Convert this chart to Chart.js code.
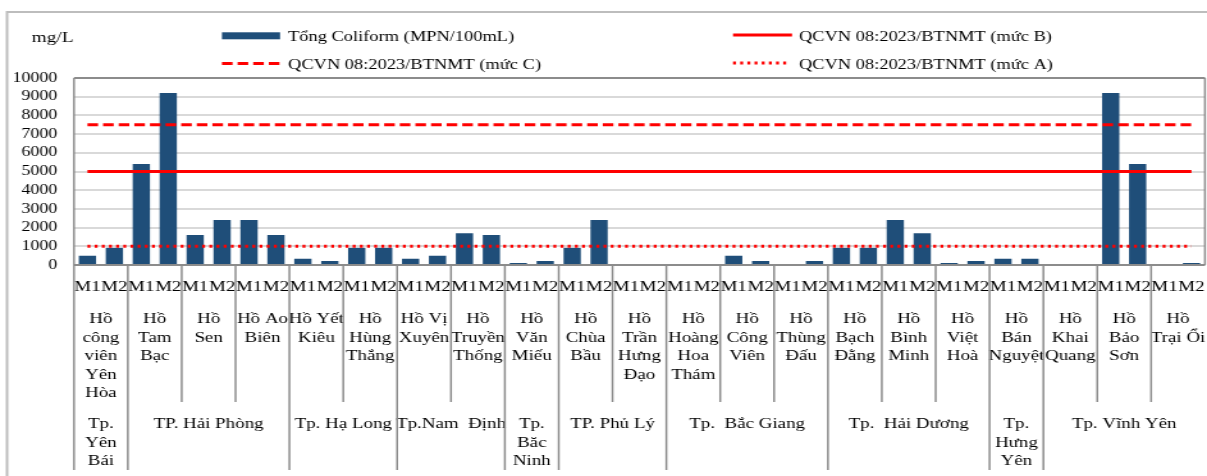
<!DOCTYPE html>
<html lang="vi">
<head>
<meta charset="utf8" />
<script src="https://cdn.jsdelivr.net/npm/chart.js@4.4.1/dist/chart.umd.min.js"></script>
<title>Tổng Coliform</title>
<style>
  html, body { margin: 0; padding: 0; background: #fff; }
</style>
</head>
<body>
<!-- the source picture is stretched sideways, so the canvas is drawn narrow and widened by css -->
<canvas id="chart" width="943" height="476" style="display:block;width:1207px;height:476px"></canvas>
<script>
// lakes, grouped by city (line breaks as in the source)
const lakeNames = [
  ['Hồ', 'công', 'viên', 'Yên', 'Hòa'],
  ['Hồ', 'Tam', 'Bạc'],
  ['Hồ', 'Sen'],
  ['Hồ Ao', 'Biên'],
  ['Hồ Yết', 'Kiêu'],
  ['Hồ', 'Hùng', 'Thắng'],
  ['Hồ Vị', 'Xuyên'],
  ['Hồ', 'Truyền', 'Thống'],
  ['Hồ', 'Văn', 'Miếu'],
  ['Hồ', 'Chùa', 'Bầu'],
  ['Hồ', 'Trần', 'Hưng', 'Đạo'],
  ['Hồ', 'Hoàng', 'Hoa', 'Thám'],
  ['Hồ', 'Công', 'Viên'],
  ['Hồ', 'Thùng', 'Đấu'],
  ['Hồ', 'Bạch', 'Đằng'],
  ['Hồ', 'Bình', 'Minh'],
  ['Hồ', 'Việt', 'Hoà'],
  ['Hồ', 'Bán', 'Nguyệt'],
  ['Hồ', 'Khai', 'Quang'],
  ['Hồ', 'Bảo', 'Sơn'],
  ['Hồ', 'Trại Ổi']
];
const cityNames = [
  ['Tp.', 'Yên', 'Bái'],
  ['TP. Hải Phòng'],
  ['Tp. Hạ Long'],
  ['Tp.Nam  Định'],
  ['Tp.', 'Băc', 'Ninh'],
  ['TP. Phủ Lý'],
  ['Tp.  Bắc Giang'],
  ['Tp.  Hải Dương'],
  ['Tp.', 'Hưng', 'Yên'],
  ['Tp. Vĩnh Yên']
];
const lakesPerCity = [1, 3, 2, 2, 1, 2, 3, 3, 1, 3];
const samples = ['M1', 'M2'];

// Tổng Coliform (MPN/100mL) per lake
const m1Values = [490, 5400, 1600, 2400, 330, 920, 330, 1700, 110, 920, 0, 0, 490, 0, 920, 2400, 110, 330, 0, 9200, 0];
const m2Values = [920, 9200, 2400, 1600, 220, 920, 490, 1600, 220, 2400, 0, 0, 220, 220, 920, 1700, 220, 330, 50, 5400, 110];

// QCVN 08:2023/BTNMT limits
const limitA = 1000;
const limitB = 5000;
const limitC = 7500;

const yTicks = [0, 1000, 2000, 3000, 4000, 5000, 6000, 7000, 8000, 9000, 10000];

// build 42 categories (M1, M2 for each lake)
const labels = [];
const coliform = [];
lakeNames.forEach((name, i) => {
  labels.push(samples[0], samples[1]);
  coliform.push(m1Values[i], m2Values[i]);
});
const flat = v => labels.map(() => v);

const FONT = '"Liberation Serif", "Times New Roman", serif';
const GRAY = '#8c8c8c';

const axisLabels = {
  id: 'axisLabels',
  afterDraw(chart) {
    const ctx = chart.ctx;
    const x = chart.scales.x;
    const area = chart.chartArea;
    const ds = chart.data.datasets;
    ctx.save();

    // outer frame
    ctx.strokeStyle = '#bdbdbd';
    ctx.lineWidth = 2;
    ctx.beginPath();
    ctx.moveTo(5.5, 476);
    ctx.lineTo(5.5, 12);
    ctx.lineTo(943, 12);
    ctx.stroke();

    // plot border
    ctx.strokeStyle = GRAY;
    ctx.lineWidth = 2;
    ctx.beginPath();
    ctx.moveTo(area.left, area.top);
    ctx.lineTo(area.right, area.top);
    ctx.moveTo(area.left, area.bottom);
    ctx.lineTo(area.right, area.bottom);
    ctx.stroke();
    ctx.lineWidth = 1.5;
    ctx.beginPath();
    ctx.moveTo(area.left, area.top);
    ctx.lineTo(area.left, area.bottom);
    ctx.moveTo(area.right, area.top);
    ctx.lineTo(area.right, area.bottom);
    ctx.stroke();

    // unit
    ctx.fillStyle = '#000';
    ctx.textAlign = 'left';
    ctx.textBaseline = 'alphabetic';
    ctx.font = '15px ' + FONT;
    ctx.fillText('mg/L', 24.8, 41.5);

    // legend
    ctx.font = '14.4px ' + FONT;
    ctx.fillStyle = ds[0].backgroundColor;
    ctx.fillRect(173.4, 32.3, 45.4, 7);
    const swatch = (d, x0, x1, y) => {
      ctx.strokeStyle = d.borderColor;
      ctx.lineWidth = d.borderWidth;
      ctx.setLineDash(d.borderDash || []);
      ctx.beginPath();
      ctx.moveTo(x0, y);
      ctx.lineTo(x1, y);
      ctx.stroke();
      ctx.setLineDash([]);
    };
    swatch(ds[2], 173.4, 218.8, 63.5);
    swatch(ds[1], 572.7, 618.8, 35);
    swatch(ds[3], 572.7, 616, 63);
    ctx.fillStyle = '#000';
    ctx.fillText(ds[0].label, 225, 41);
    ctx.fillText(ds[2].label, 225, 68.5);
    ctx.fillText(ds[1].label, 624.2, 41);
    ctx.fillText(ds[3].label, 624.2, 68.5);

    // category axis: sample row, lake row, city row
    ctx.font = '14.8px ' + FONT;
    const px = i => x.getPixelForValue(i);
    const edge = i => i <= 0 ? area.left : i >= labels.length ? area.right : (px(i - 1) + px(i)) / 2;
    ctx.textAlign = 'center';
    labels.forEach((l, i) => ctx.fillText(l, px(i), 291));

    lakeNames.forEach((lines, g) => {
      const cx = (edge(2 * g) + edge(2 * g + 2)) / 2;
      lines.forEach((t, k) => ctx.fillText(t, cx, 323 + k * 18.6));
    });

    let start = 0;
    const cityEdges = [0];
    cityNames.forEach((lines, c) => {
      const end = start + lakesPerCity[c];
      const cx = (edge(2 * start) + edge(2 * end)) / 2;
      lines.forEach((t, k) => ctx.fillText(t, cx, 428 + k * 18.6));
      cityEdges.push(end);
      start = end;
    });

    ctx.strokeStyle = GRAY;
    ctx.lineWidth = 1.5;
    for (let g = 0; g < lakeNames.length; g++) {
      const xx = edge(2 * g);
      const long = cityEdges.includes(g);
      ctx.beginPath();
      ctx.moveTo(xx, area.bottom);
      ctx.lineTo(xx, long ? 470 : 402);
      ctx.stroke();
    }
    ctx.restore();
  }
};

new Chart(document.getElementById('chart'), {
  type: 'bar',
  data: {
    labels: labels,
    datasets: [
      {
        type: 'bar',
        label: 'Tổng Coliform (MPN/100mL)',
        data: coliform,
        backgroundColor: '#1f4e79',
        barPercentage: 0.64,
        categoryPercentage: 1,
        order: 2
      },
      {
        type: 'line',
        label: 'QCVN 08:2023/BTNMT (mức B)',
        data: flat(limitB),
        borderColor: '#ff0000',
        borderWidth: 3,
        pointRadius: 0,
        order: 1
      },
      {
        type: 'line',
        label: 'QCVN 08:2023/BTNMT (mức C)',
        data: flat(limitC),
        borderColor: '#ff0000',
        borderWidth: 3,
        borderDash: [8.3, 3.9],
        pointRadius: 0,
        order: 1
      },
      {
        type: 'line',
        label: 'QCVN 08:2023/BTNMT (mức A)',
        data: flat(limitA),
        borderColor: '#ff0000',
        borderWidth: 3,
        borderDash: [2.3, 3.3],
        pointRadius: 0,
        order: 1
      }
    ]
  },
  options: {
    responsive: false,
    animation: false,
    devicePixelRatio: 1,
    layout: { padding: { top: 78, right: 1.6, left: 0, bottom: 0 } },
    plugins: {
      legend: { display: false },
      tooltip: { enabled: false }
    },
    scales: {
      x: {
        offset: true,
        grid: { display: false },
        border: { display: false },
        ticks: { display: false },
        afterFit: s => { s.height = 211; }
      },
      y: {
        min: 0,
        max: 10000,
        afterBuildTicks: s => { s.ticks = yTicks.map(v => ({ value: v })); },
        grid: { color: '#d9d9d9', lineWidth: 2, drawTicks: false },
        border: { display: false },
        ticks: {
          color: '#000',
          font: { family: FONT, size: 14 },
          padding: 13,
          autoSkip: false,
          callback: v => String(v)
        },
        afterFit: s => { s.width = 57.8; }
      }
    }
  },
  plugins: [axisLabels]
});
</script>
</body>
</html>
